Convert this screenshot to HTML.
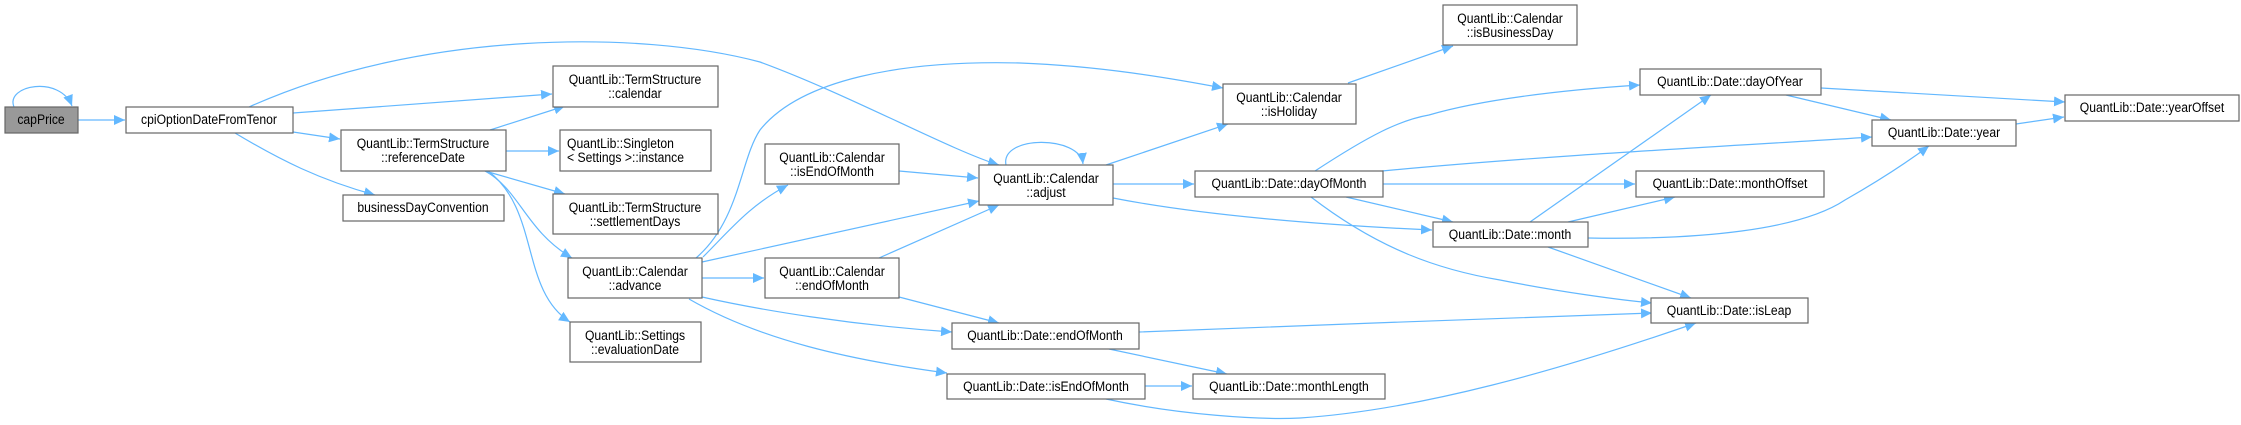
<!DOCTYPE html>
<html><head><meta charset="utf-8"><style>
html,body{margin:0;padding:0;background:#fff;}
svg{display:block;}
text{font-family:"Liberation Sans",sans-serif;font-size:14px;fill:#000;}
.e{fill:none;stroke:#63b8ff;stroke-width:1.2;}
rect{stroke:#666;stroke-width:1.2;fill:#fff;}
</style></head><body>
<svg width="2241" height="425" viewBox="0 0 2241 425" xmlns="http://www.w3.org/2000/svg">
<defs><marker id="a" markerUnits="userSpaceOnUse" markerWidth="12" markerHeight="10" refX="11" refY="5" orient="auto"><path d="M0,0 L11,5 L0,10 z" fill="#63b8ff"/></marker></defs>
<g marker-end="url(#a)">
<path class="e" d="M14,107 C5,85 60,75 72,106"/>
<path class="e" d="M78,120 L125,120"/>
<path class="e" d="M249,107 C420,30 640,30 760,62 C850,95 950,150 999,165"/>
<path class="e" d="M293,113 L552,94"/>
<path class="e" d="M293,132 L340,139"/>
<path class="e" d="M235,133 C280,160 320,180 375,195"/>
<path class="e" d="M490,130 L565,106"/>
<path class="e" d="M506,151 L559,151"/>
<path class="e" d="M485,171 L565,194"/>
<path class="e" d="M485,171 C520,190 525,230 572,258"/>
<path class="e" d="M488,171 C540,210 520,290 570,322"/>
<path class="e" d="M696,258 C740,220 740,160 760,130 C800,80 900,60 1020,63 C1100,66 1170,78 1223,88"/>
<path class="e" d="M703,257 C730,230 750,205 788,185"/>
<path class="e" d="M702,262 L979,201"/>
<path class="e" d="M702,278 L764,278"/>
<path class="e" d="M702,297 C760,310 850,325 952,332"/>
<path class="e" d="M689,299 C760,340 850,360 947,373"/>
<path class="e" d="M899,171 L978,178"/>
<path class="e" d="M879,258 L999,205"/>
<path class="e" d="M899,297 L999,323"/>
<path class="e" d="M1006,165 C1000,135 1080,135 1083,164"/>
<path class="e" d="M1106,165 L1228,124"/>
<path class="e" d="M1113,184 L1194,184"/>
<path class="e" d="M1113,198 C1200,215 1320,225 1432,230"/>
<path class="e" d="M1348,83 L1453,46"/>
<path class="e" d="M1315,171 C1370,135 1400,120 1429,115 C1480,100 1560,90 1640,85"/>
<path class="e" d="M1382,171 C1550,155 1750,145 1872,137"/>
<path class="e" d="M1383,184 L1635,184"/>
<path class="e" d="M1346,197 L1453,222"/>
<path class="e" d="M1311,197 C1380,250 1440,270 1500,280 C1560,292 1620,300 1652,303"/>
<path class="e" d="M1530,222 L1711,95"/>
<path class="e" d="M1568,222 L1675,197"/>
<path class="e" d="M1588,238 C1700,240 1800,230 1845,200 C1880,180 1910,160 1929,146"/>
<path class="e" d="M1548,247 L1691,298"/>
<path class="e" d="M1139,332 C1300,325 1500,319 1652,313"/>
<path class="e" d="M1109,349 L1227,374"/>
<path class="e" d="M1145,386 L1192,386"/>
<path class="e" d="M1106,399 C1180,415 1260,420 1300,418 C1420,410 1560,370 1696,323"/>
<path class="e" d="M1821,88 L2065,102"/>
<path class="e" d="M1786,95 L1891,120"/>
<path class="e" d="M2016,124 L2064,117"/>
</g>
<g>
<rect x="5" y="107" width="73" height="26" style="fill:#999"/>
<text transform="translate(41,124) scale(0.87,1)" text-anchor="middle">capPrice</text>
<rect x="126" y="107" width="167" height="26"/>
<text transform="translate(209,124) scale(0.87,1)" text-anchor="middle">cpiOptionDateFromTenor</text>
<rect x="341" y="130" width="165" height="41"/>
<text transform="translate(423,148) scale(0.87,1)" text-anchor="middle">QuantLib::TermStructure</text>
<text transform="translate(423,162) scale(0.87,1)" text-anchor="middle">::referenceDate</text>
<rect x="343" y="195" width="161" height="26"/>
<text transform="translate(423,212) scale(0.87,1)" text-anchor="middle">businessDayConvention</text>
<rect x="553" y="66" width="165" height="41"/>
<text transform="translate(635,84) scale(0.87,1)" text-anchor="middle">QuantLib::TermStructure</text>
<text transform="translate(635,98) scale(0.87,1)" text-anchor="middle">::calendar</text>
<rect x="560" y="130" width="151" height="41"/>
<text transform="translate(567,148) scale(0.87,1)">QuantLib::Singleton</text>
<text transform="translate(567,162) scale(0.87,1)">&lt; Settings &gt;::instance</text>
<rect x="553" y="194" width="165" height="40"/>
<text transform="translate(635,212) scale(0.87,1)" text-anchor="middle">QuantLib::TermStructure</text>
<text transform="translate(635,226) scale(0.87,1)" text-anchor="middle">::settlementDays</text>
<rect x="568" y="258" width="134" height="40"/>
<text transform="translate(635,276) scale(0.87,1)" text-anchor="middle">QuantLib::Calendar</text>
<text transform="translate(635,290) scale(0.87,1)" text-anchor="middle">::advance</text>
<rect x="570" y="322" width="131" height="40"/>
<text transform="translate(635,340) scale(0.87,1)" text-anchor="middle">QuantLib::Settings</text>
<text transform="translate(635,354) scale(0.87,1)" text-anchor="middle">::evaluationDate</text>
<rect x="765" y="144" width="134" height="40"/>
<text transform="translate(832,162) scale(0.87,1)" text-anchor="middle">QuantLib::Calendar</text>
<text transform="translate(832,176) scale(0.87,1)" text-anchor="middle">::isEndOfMonth</text>
<rect x="765" y="258" width="134" height="40"/>
<text transform="translate(832,276) scale(0.87,1)" text-anchor="middle">QuantLib::Calendar</text>
<text transform="translate(832,290) scale(0.87,1)" text-anchor="middle">::endOfMonth</text>
<rect x="979" y="165" width="134" height="40"/>
<text transform="translate(1046,183) scale(0.87,1)" text-anchor="middle">QuantLib::Calendar</text>
<text transform="translate(1046,197) scale(0.87,1)" text-anchor="middle">::adjust</text>
<rect x="952" y="323" width="187" height="26"/>
<text transform="translate(1045,340) scale(0.87,1)" text-anchor="middle">QuantLib::Date::endOfMonth</text>
<rect x="947" y="374" width="198" height="25"/>
<text transform="translate(1046,391) scale(0.87,1)" text-anchor="middle">QuantLib::Date::isEndOfMonth</text>
<rect x="1223" y="84" width="133" height="40"/>
<text transform="translate(1289,102) scale(0.87,1)" text-anchor="middle">QuantLib::Calendar</text>
<text transform="translate(1289,116) scale(0.87,1)" text-anchor="middle">::isHoliday</text>
<rect x="1443" y="5" width="134" height="40"/>
<text transform="translate(1510,23) scale(0.87,1)" text-anchor="middle">QuantLib::Calendar</text>
<text transform="translate(1510,37) scale(0.87,1)" text-anchor="middle">::isBusinessDay</text>
<rect x="1195" y="171" width="188" height="26"/>
<text transform="translate(1289,188) scale(0.87,1)" text-anchor="middle">QuantLib::Date::dayOfMonth</text>
<rect x="1193" y="374" width="192" height="25"/>
<text transform="translate(1289,391) scale(0.87,1)" text-anchor="middle">QuantLib::Date::monthLength</text>
<rect x="1433" y="222" width="155" height="25"/>
<text transform="translate(1510,239) scale(0.87,1)" text-anchor="middle">QuantLib::Date::month</text>
<rect x="1640" y="69" width="181" height="26"/>
<text transform="translate(1730,86) scale(0.87,1)" text-anchor="middle">QuantLib::Date::dayOfYear</text>
<rect x="1636" y="171" width="188" height="26"/>
<text transform="translate(1730,188) scale(0.87,1)" text-anchor="middle">QuantLib::Date::monthOffset</text>
<rect x="1651" y="298" width="157" height="25"/>
<text transform="translate(1729,315) scale(0.87,1)" text-anchor="middle">QuantLib::Date::isLeap</text>
<rect x="1872" y="120" width="144" height="26"/>
<text transform="translate(1944,137) scale(0.87,1)" text-anchor="middle">QuantLib::Date::year</text>
<rect x="2065" y="95" width="174" height="26"/>
<text transform="translate(2152,112) scale(0.87,1)" text-anchor="middle">QuantLib::Date::yearOffset</text>
</g>
</svg>
</body></html>
